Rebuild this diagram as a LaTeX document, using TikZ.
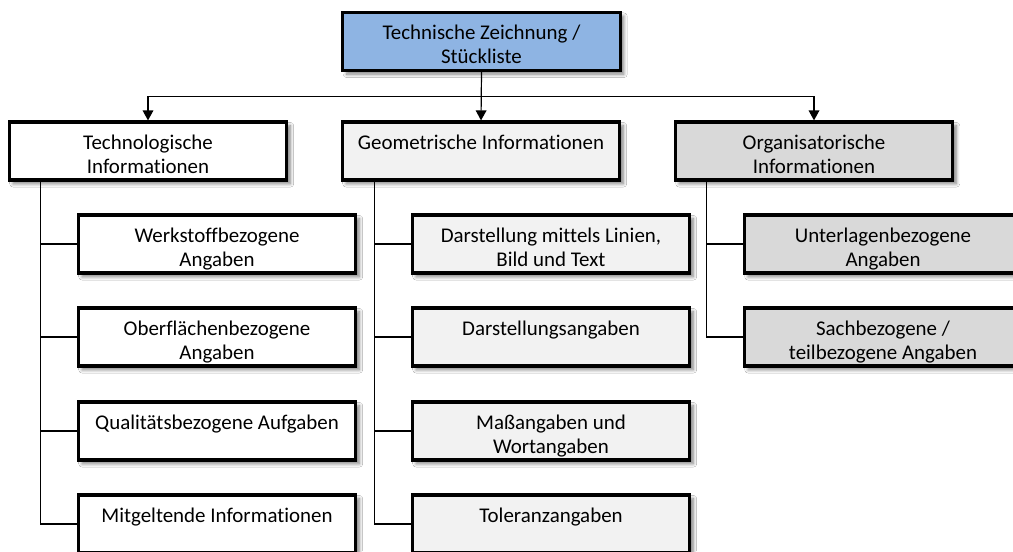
\documentclass[tikz,border=0pt]{standalone}
\usepackage{fontspec}
\setmainfont{Carlito}[Ligatures=NoCommon]
\usetikzlibrary{arrows.meta,calc,shadows.blur}
\definecolor{topblue}{RGB}{142,180,227}
\definecolor{geogray}{RGB}{242,242,242}
\definecolor{orggray}{RGB}{217,217,217}
% box text: top-aligned, fixed box height
\newcommand{\boxlabel}[1]{\parbox[c][43.5pt][t]{204pt}{\centering\rule{0pt}{20.25pt}#1}}
\begin{document}
\begin{tikzpicture}[x=0.75pt,y=-0.75pt,
  card/.style={draw=black, line width=2.4pt, rectangle,
    minimum width=208pt, minimum height=43.5pt, inner sep=0pt,
    font=\fontsize{15.7}{18}\selectfont,
    blur shadow={shadow xshift=2.8pt, shadow yshift=-2.8pt,
      shadow blur steps=7, shadow blur radius=2.5pt, shadow opacity=50}},
  link/.style={draw=black, line width=0.9pt},
  feed/.style={link, -{Triangle[length=7.5pt,width=8pt]}}]
\fill[white] (0,0) rectangle (1013,551);
\useasboundingbox (0,0) rectangle (1013,551);
\clip (0,0) rectangle (1013,551);

% root
\node[card, fill=topblue] (top) at (481.5,41.5)
  {\boxlabel{Technische Zeichnung /\\Stückliste}};

% main categories
\node[card, fill=white]   (tech) at (148,151) {\boxlabel{Technologische\\Informationen}};
\node[card, fill=geogray] (geo)  at (481,151) {\boxlabel{Geometrische Informationen}};
\node[card, fill=orggray] (org)  at (814,151) {\boxlabel{Organisatorische\\Informationen}};

% technological details
\node[card, fill=white] (t1) at (217,244) {\boxlabel{Werkstoffbezogene\\Angaben}};
\node[card, fill=white] (t2) at (217,337) {\boxlabel{Oberflächenbezogene\\Angaben}};
\node[card, fill=white] (t3) at (217,431) {\boxlabel{Qualitätsbezogene Aufgaben}};
\node[card, fill=white] (t4) at (217,524) {\boxlabel{Mitgeltende Informationen}};

% geometric details
\node[card, fill=geogray] (g1) at (551,244) {\boxlabel{Darstellung mittels Linien,\\Bild und Text}};
\node[card, fill=geogray] (g2) at (551,337) {\boxlabel{Darstellungsangaben}};
\node[card, fill=geogray] (g3) at (551,431) {\boxlabel{Maßangaben und\\Wortangaben}};
\node[card, fill=geogray] (g4) at (551,524) {\boxlabel{Toleranzangaben}};

% organisational details
\node[card, fill=orggray] (o1) at (883,244) {\boxlabel{Unterlagenbezogene\\Angaben}};
\node[card, fill=orggray] (o2) at (883,337) {\boxlabel{Sachbezogene /\\teilbezogene Angaben}};

% distribution bus
\coordinate (bus) at ($(top.south)!0.5!(geo.north)$);
\draw[feed] (top.south) -- (geo.north);
\draw[feed] (bus) -| (tech.north);
\draw[feed] (bus) -| (org.north);

% trunks
\coordinate (tt) at ([xshift=24.75pt]tech.south west);
\coordinate (gt) at ([xshift=25.5pt]geo.south west);
\coordinate (ot) at ([xshift=24.75pt]org.south west);

\draw[link] (tt) |- (t4.west);
\draw[link] (tt |- t1.west) -- (t1.west);
\draw[link] (tt |- t2.west) -- (t2.west);
\draw[link] (tt |- t3.west) -- (t3.west);

\draw[link] (gt) |- (g4.west);
\draw[link] (gt |- g1.west) -- (g1.west);
\draw[link] (gt |- g2.west) -- (g2.west);
\draw[link] (gt |- g3.west) -- (g3.west);

\draw[link] (ot) |- (o2.west);
\draw[link] (ot |- o1.west) -- (o1.west);
\end{tikzpicture}
\end{document}
